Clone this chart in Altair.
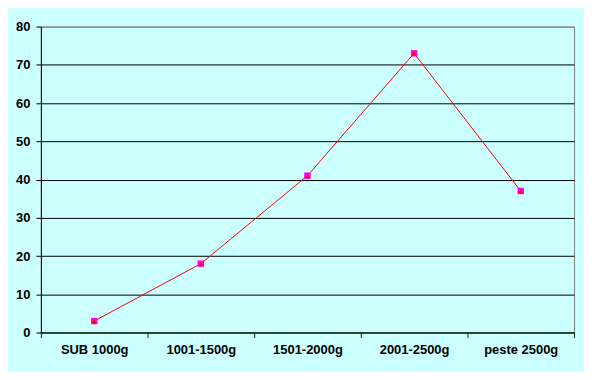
import altair as alt
import pandas as pd

categories = ["SUB 1000g", "1001-1500g", "1501-2000g", "2001-2500g", "peste 2500g"]
values = [3, 18, 41, 73, 37]

df = pd.DataFrame({"cat": categories, "val": values})

x = alt.X("cat:N", sort=categories, title=None,
          scale=alt.Scale(paddingInner=0, paddingOuter=0),
          axis=alt.Axis(labelAngle=0, tickBand="extent", domainColor="#003300",
                        tickColor="#003300", tickSize=5, labelPadding=6,
                        labelFont="Liberation Sans", labelFontWeight="bold",
                        labelFontSize=13, labelColor="#000000", grid=False))
y = alt.Y("val:Q", title=None,
          scale=alt.Scale(domain=[0, 80], nice=False),
          axis=alt.Axis(values=[0, 10, 20, 30, 40, 50, 60, 70, 80],
                        domainColor="#000000", tickColor="#000000", tickSize=5,
                        labelPadding=6, labelFont="Liberation Sans",
                        labelFontWeight="bold", labelFontSize=13,
                        labelColor="#000000",
                        gridColor={"condition": {"test": "datum.value == 80", "value": "#808080"}, "value": "#000000"},
                        gridOpacity=1, gridWidth=1))

base = alt.Chart(df)
line = base.mark_line(color="#FF0000", strokeWidth=1).encode(x=x, y=y)
sq = base.mark_point(shape="square", filled=True, color="#FF00FF", size=42, opacity=1).encode(x=x, y=y)
tri = base.mark_point(shape="triangle-up", filled=True, color="#FF0000", size=26, opacity=1).encode(x=x, y=y)

chart = alt.layer(line, sq, tri).properties(
    width=535, height=307,
    autosize=alt.AutoSizeParams(type="none"),
    padding={"left": 33, "top": 18, "right": 10, "bottom": 39},
    background="#CCFFFF",
).configure_view(stroke="#808080", strokeWidth=1)

chart.save("out.html", embed_options={"renderer": "svg", "actions": False})
